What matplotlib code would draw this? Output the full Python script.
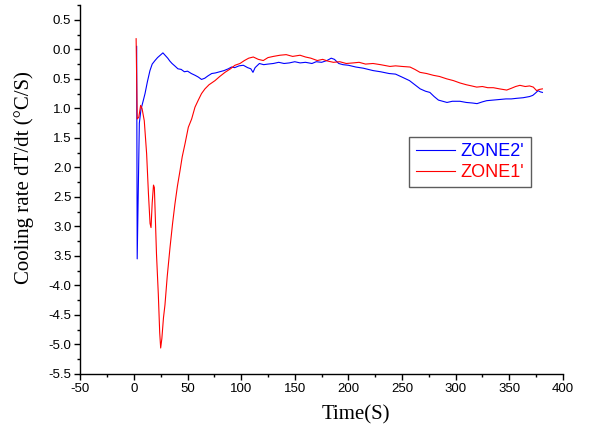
import matplotlib.pyplot as plt
import numpy as np
from matplotlib.ticker import MultipleLocator

plt.rcParams['axes.unicode_minus'] = False

# ZONE2' (blue)
t_zone2 = [2.5, 3.0, 5.0, 6.5, 8.5, 10.3, 12.5, 14.9, 17, 19.6, 22, 24.5, 27, 29, 31.5,
           33.5, 35.5, 38, 41, 44, 47, 50, 53.5, 57, 60, 63, 66, 69, 72.5, 76, 80, 84,
           88, 91, 94, 98, 102, 106, 109, 111, 113, 117, 121, 125, 130, 135, 140, 145,
           150, 155, 160, 166, 170, 175, 180, 184, 187, 191, 195, 200, 207, 214, 223,
           230, 238, 244, 250, 257, 262, 267, 272, 276, 280, 284, 288, 292, 297, 304,
           310, 316, 320, 325, 329, 335, 341, 347, 352, 357, 363, 369, 372, 374, 377,
           379, 381]
v_zone2 = [0.05, -3.55, -1.25, -1.02, -0.88, -0.75, -0.55, -0.36, -0.25, -0.19, -0.14,
           -0.10, -0.06, -0.10, -0.15, -0.20, -0.24, -0.28, -0.33, -0.34, -0.38, -0.37,
           -0.41, -0.44, -0.47, -0.51, -0.49, -0.45, -0.41, -0.40, -0.38, -0.36, -0.33,
           -0.30, -0.31, -0.28, -0.27, -0.31, -0.33, -0.39, -0.31, -0.24, -0.26, -0.25,
           -0.24, -0.22, -0.24, -0.23, -0.21, -0.23, -0.22, -0.24, -0.21, -0.22, -0.19,
           -0.15, -0.17, -0.24, -0.26, -0.27, -0.30, -0.32, -0.36, -0.38, -0.41, -0.42,
           -0.47, -0.53, -0.60, -0.67, -0.71, -0.73, -0.80, -0.86, -0.88, -0.90, -0.88,
           -0.88, -0.90, -0.91, -0.92, -0.89, -0.87, -0.86, -0.85, -0.84, -0.84, -0.83,
           -0.82, -0.80, -0.78, -0.75, -0.70, -0.72, -0.73]

# ZONE1' (red)
t_zone1 = [2.0, 3.0, 4.5, 6.2, 7.5, 9.6, 11.8, 13.5, 15.0, 15.9, 17, 18.2, 19.0, 20, 21,
           22.7, 24.0, 24.9, 26, 27.5, 28.9, 31, 33.6, 36, 38.2, 40.5, 42.9, 45, 47.6,
           50.7, 53.8, 56.9, 60, 63, 66.2, 70, 75.6, 80, 84.9, 90, 94.2, 98.9, 103, 107,
           111.3, 116, 120.6, 125, 130, 136.2, 142, 148, 154.9, 160, 165, 171, 176, 181,
           186, 192, 198, 204.6, 210, 216, 223, 230, 238.8, 244, 250, 257.5, 262, 266.8,
           273, 279.2, 285, 291.7, 298, 304.1, 310, 315, 319.7, 325, 330, 335.2, 341,
           347.7, 352, 356, 360, 365, 369, 372.5, 375.6, 378, 381]
v_zone1 = [0.18, -1.18, -1.15, -0.95, -1.00, -1.21, -1.77, -2.45, -2.95, -3.02, -2.60,
           -2.30, -2.34, -2.90, -3.47, -4.15, -4.80, -5.06, -4.90, -4.55, -4.33, -3.85,
           -3.36, -2.95, -2.62, -2.32, -2.06, -1.82, -1.60, -1.32, -1.18, -0.98, -0.86,
           -0.75, -0.67, -0.60, -0.53, -0.46, -0.39, -0.33, -0.27, -0.24, -0.19, -0.15,
           -0.13, -0.17, -0.19, -0.14, -0.12, -0.10, -0.09, -0.12, -0.10, -0.13, -0.15,
           -0.19, -0.17, -0.20, -0.22, -0.21, -0.24, -0.23, -0.22, -0.25, -0.24, -0.26,
           -0.29, -0.28, -0.29, -0.30, -0.34, -0.39, -0.41, -0.44, -0.46, -0.50, -0.53,
           -0.57, -0.60, -0.62, -0.64, -0.63, -0.65, -0.65, -0.67, -0.69, -0.66, -0.63,
           -0.61, -0.63, -0.62, -0.64, -0.70, -0.68, -0.67]

y_ticks = [0.5, 0.0, -0.5, -1.0, -1.5, -2.0, -2.5, -3.0, -3.5, -4.0, -4.5, -5.0, -5.5]
# labels as printed in the original (minus sign lost on -0.5 .. -3.5)
y_ticklabels = ["0.5", "0.0", "0.5", "1.0", "1.5", "2.0", "2.5", "3.0", "3.5",
                "-4.0", "-4.5", "-5.0", "-5.5"]

fig = plt.figure(figsize=(6.03, 4.32), dpi=100)
ax = fig.add_axes([0.1333, 0.1343, 0.80, 0.854])

ax.plot(t_zone2, v_zone2, color='#0000ff', lw=0.8, label="ZONE2'")
ax.plot(t_zone1, v_zone1, color='#ff0000', lw=0.8, label="ZONE1'")

ax.set_xlim(-50, 400)
ax.set_ylim(-5.5, 0.75)

ax.spines['top'].set_visible(False)
ax.spines['right'].set_visible(False)
for s in ('left', 'bottom'):
    ax.spines[s].set_linewidth(1.0)

ax.xaxis.set_major_locator(MultipleLocator(50))
ax.xaxis.set_minor_locator(MultipleLocator(25))
ax.set_yticks(y_ticks)
ax.set_yticklabels(y_ticklabels)
ax.yaxis.set_minor_locator(MultipleLocator(0.25))
ax.tick_params(which='major', direction='out', length=4.5, width=1.0,
               labelsize=9.5, pad=2)
ax.tick_params(which='minor', direction='out', length=2.5, width=1.0)
for lab in ax.get_xticklabels() + ax.get_yticklabels():
    lab.set_fontfamily('Liberation Sans')

ax.set_xlabel('Time(S)', family='Liberation Serif', fontsize=15)
ax.set_ylabel('Cooling rate dT/dt (\u00b0C/S)', family='Liberation Serif',
              fontsize=15)
ax.xaxis.set_label_coords(0.571, -0.11)
ax.xaxis.label.set_va('center')
ax.yaxis.set_label_coords(-0.117, 0.5325)
ax.yaxis.label.set_va('center')

leg = ax.legend(loc='upper left', bbox_to_anchor=(0.682, 0.642),
                prop={'family': 'Liberation Sans', 'size': 13},
                labelcolor='linecolor', frameon=True, fancybox=False,
                edgecolor='#333333', handlelength=2.2, handletextpad=0.3,
                borderpad=0.35, labelspacing=0.2, borderaxespad=0)
leg.get_frame().set_linewidth(1.0)

fig.savefig('out.png', dpi=100)
